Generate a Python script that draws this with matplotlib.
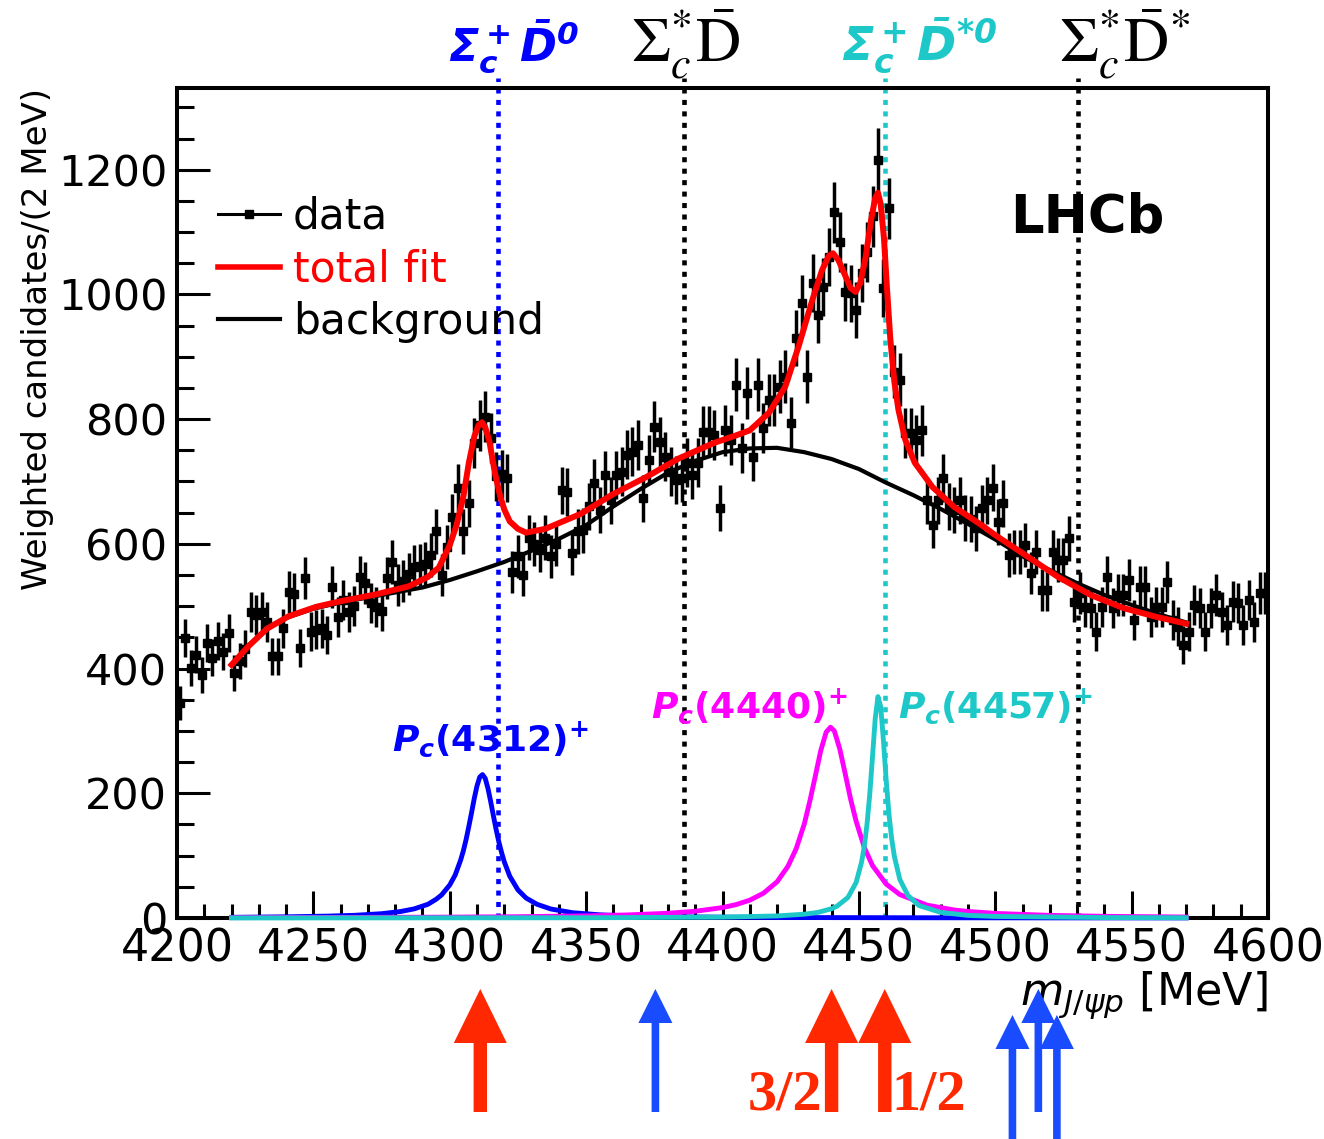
import numpy as np
import matplotlib
matplotlib.use('Agg')
import matplotlib.pyplot as plt
from matplotlib.lines import Line2D
from matplotlib.patches import FancyArrow
import matplotlib.transforms as mtransforms

plt.rcParams['font.family'] = ['DejaVu Sans']
plt.rcParams['mathtext.rm'] = 'DejaVu Sans:italic:bold'
plt.rcParams['mathtext.it'] = 'DejaVu Sans:italic:bold'
plt.rcParams['mathtext.bf'] = 'DejaVu Sans:bold'
plt.rcParams['mathtext.sf'] = 'DejaVu Sans:bold'

# ---------------- data ----------------
mass_lo, bin_width = 4200, 2
counts = [
    345, 449, 401, 422, 390, 441, 417, 444, 427, 457,
    393, 412, 432, 490, 486, 490, 475, 420, 420, 465,
    523, 520, 433, 545, 459, 462, 465, 454, 531, 483,
    510, 490, 500, 547, 537, 505, 499, 492, 545, 571,
    534, 540, 552, 563, 565, 568, 582, 620, 550, 595,
    643, 690, 620, 665, 762, 790, 804, 770, 708, 712,
    705, 555, 580, 550, 610, 600, 590, 610, 580, 600,
    686, 683, 585, 620, 622, 660, 697, 654, 711, 670,
    711, 716, 743, 748, 759, 673, 735, 788, 764, 740,
    716, 703, 705, 730, 711, 730, 780, 780, 775, 657,
    782, 767, 855, 754, 842, 740, 855, 786, 831, 831,
    852, 868, 794, 930, 986, 868, 1018, 967, 1012, 1060,
    1132, 1084, 1004, 1002, 975, 1034, 1068, 1125, 1216, 1010,
    1138, 876, 863, 778, 778, 767, 782, 670, 630, 670,
    705, 660, 654, 670, 641, 640, 625, 657, 670, 690,
    635, 665, 582, 587, 587, 598, 553, 587, 526, 526,
    587, 574, 574, 609, 507, 521, 499, 497, 459, 499,
    547, 497, 518, 518, 542, 478, 531, 531, 483, 499,
    499, 539, 478, 467, 438, 459, 502, 497, 459, 497,
    518, 491, 470, 507, 505, 470, 510, 475, 521, 521,
]
err_scale = 1.45  # weighted-candidate uncertainty relative to sqrt(N)

fit_m = [4220, 4226, 4233, 4241, 4251, 4260, 4273, 4285, 4292, 4296, 4300,
         4302.5, 4305, 4307, 4309, 4310.5, 4311.8, 4313, 4314.5, 4316.5,
         4318.5, 4320, 4322, 4325, 4328, 4335, 4348, 4360, 4372, 4384, 4397,
         4405, 4410, 4417, 4423, 4428, 4433, 4436.5, 4439, 4440.5, 4442.5,
         4445, 4447, 4448.8, 4450.5, 4452.5, 4454.5, 4456, 4457, 4458,
         4459.2, 4460.3, 4461.5, 4463, 4464.5, 4467, 4470.5, 4477, 4485,
         4495, 4500, 4510, 4523, 4535, 4547, 4559, 4570]
fit_v = [406, 435, 464, 484, 499, 508, 519, 532, 547, 562, 598,
         630, 676, 730, 772, 790, 795, 787, 765, 715,
         676, 655, 636, 624, 618, 624, 648, 680, 707, 737, 762,
         774, 782, 810, 852, 918, 992, 1039, 1062, 1066, 1055,
         1030, 1010, 1004, 1018, 1060, 1120, 1155, 1163, 1145,
         1090, 1010, 930, 860, 815, 767, 730, 691, 659,
         630, 614, 585, 547, 518, 497, 483, 472]

bkg_m = [4220, 4225, 4230, 4235, 4240, 4250, 4260, 4270, 4280, 4290, 4300,
         4310, 4320, 4330, 4340, 4350, 4360, 4370, 4380, 4390, 4400, 4410,
         4420, 4430, 4440, 4450, 4460, 4470, 4480, 4490, 4500, 4510, 4520,
         4530, 4540, 4550, 4560, 4570]
bkg_v = [406, 432, 452, 469, 481, 496, 506, 514, 522, 530, 542,
         556, 571, 589, 608, 630, 660, 688, 714, 733, 747, 753,
         754, 747, 736, 720, 698, 678, 656, 632, 607, 580, 558,
         537, 518, 502, 487, 474]

pc4312_m = [4220, 4240, 4255, 4265, 4275, 4282, 4287, 4292, 4295, 4297, 4300,
            4302, 4304, 4305, 4306, 4307, 4308, 4309, 4310, 4311, 4312, 4313,
            4314, 4315, 4316, 4317, 4318, 4319, 4320, 4322, 4325, 4328, 4332,
            4337, 4345, 4355, 4370, 4390, 4420, 4470, 4520, 4570]
pc4312_v = [1.1, 1.9, 3.0, 4.3, 6.9, 10.4, 14.7, 22, 30, 37, 53,
            69, 93, 108, 126, 147, 169, 192, 212, 226, 230, 224,
            208, 187, 164, 142, 122, 105, 90, 67, 45, 32, 22,
            14.5, 8.5, 5.1, 2.8, 1.6, 0.8, 0.4, 0.2, 0.15]

pc4440_m = [4220, 4250, 4300, 4325, 4350, 4365, 4380, 4390, 4400, 4405, 4410,
            4415, 4420, 4424, 4427, 4430, 4432, 4434, 4436, 4438, 4439.6,
            4441, 4443, 4445, 4447, 4449, 4452, 4455, 4460, 4465, 4475,
            4485, 4490, 4500, 4520, 4540, 4570]
pc4440_v = [0.6, 0.8, 1.4, 2.1, 3.4, 4.9, 7.6, 10.8, 16.7, 21.5, 28.6,
            39.7, 58, 83, 111, 151, 187, 227, 268, 298, 306,
            300, 271, 231, 190, 155, 113, 84, 54.5, 37.6, 20.6,
            12.8, 10.5, 7.4, 4.2, 2.7, 1.6]

pc4457_m = [4220, 4350, 4400, 4420, 4430, 4435, 4440, 4442, 4446, 4449, 4451,
            4452, 4453, 4454, 4455, 4456, 4457, 4458, 4459, 4460, 4461, 4462,
            4463, 4465, 4468, 4472, 4480, 4490, 4500, 4540, 4570]
pc4457_v = [0.1, 0.4, 1.4, 3.3, 6.1, 9, 14.9, 19, 33, 57, 90,
            115, 151, 199, 259, 320, 355, 339, 285, 222, 168, 128,
            99, 62, 36, 20, 9, 4.2, 2.5, 0.7, 0.4]

thresholds = [4317.7, 4386.0, 4459.6, 4530.5]
threshold_labels = [r'$\Sigma_c^+\bar{D}^0$', r'$\Sigma_c^{*}\bar{\mathrm{D}}$',
                    r'$\Sigma_c^+\bar{D}^{*0}$', r'$\Sigma_c^{*}\bar{\mathrm{D}}^{*}$']
threshold_colors = ['#0000FF', '#000000', '#1EC8C8', '#000000']
threshold_label_x = [4323.5, 4386.6, 4472.0, 4547.6]
threshold_label_size = [32, 45, 34, 45]

pc_labels = [r'$P_c\mathbf{(4312)}^{\mathbf{+}}$', r'$P_c\mathbf{(4440)}^{\mathbf{+}}$',
             r'$P_c\mathbf{(4457)}^{\mathbf{+}}$']
pc_label_x = [4315, 4410, 4500]
pc_label_y = [268, 321, 321]

pred_red = [4311.2, 4440.0, 4459.5]
pred_blue = [4375.4, 4506.3, 4515.8, 4522.6]
pred_blue_low = [False, True, False, True]

# ---------------- figure ----------------
W, H = 1324, 1139
fig = plt.figure(figsize=(W / 100, H / 100), dpi=100)
ax = fig.add_axes([177 / W, 1 - 918 / H, 1091 / W, 830 / H])
ax.set_xlim(4200, 4600)
ax.set_ylim(0, 1331)

C_RED, C_BLUE, C_MAG, C_CYAN = '#FF0000', '#0000FF', '#FF00FF', '#1EC8C8'

# threshold dotted lines
for xt, col in zip(thresholds, threshold_colors):
    ax.axvline(xt, ymin=0, ymax=1.012, color=col, lw=3.3,
               linestyle=(0, (1.1, 1.4)), dash_capstyle='butt', clip_on=False, zorder=1)

centers = mass_lo + bin_width * (np.arange(len(counts)) + 0.5)
cnt = np.array(counts, dtype=float)
ax.errorbar(centers, cnt, yerr=err_scale * np.sqrt(cnt), fmt='s', color='k',
            ms=5.8, elinewidth=2.5, capsize=0, zorder=3)

for m_, v_, c_ in [(pc4312_m, pc4312_v, C_BLUE), (pc4440_m, pc4440_v, C_MAG),
                   (pc4457_m, pc4457_v, C_CYAN)]:
    ax.plot(m_, v_, color=c_, lw=3.5, zorder=4, clip_on=False, solid_joinstyle='round')
ax.plot(bkg_m, bkg_v, color='k', lw=3.0, zorder=4)
ax.plot(fit_m, fit_v, color=C_RED, lw=4.3, zorder=5, solid_joinstyle='round')

# axes styling
for s in ax.spines.values():
    s.set_linewidth(2.9)
ax.set_xticks(np.arange(4200, 4601, 50))
ax.set_xticks(np.arange(4200, 4601, 10), minor=True)
ax.set_yticks(np.arange(0, 1201, 200))
ax.set_yticks(np.arange(0, 1301, 50), minor=True)
ax.tick_params(axis='both', which='both', direction='in', top=False, right=False, width=2.2)
ax.tick_params(axis='x', which='major', length=19.5, pad=7, labelsize=32)
ax.tick_params(axis='x', which='minor', length=10)
ax.tick_params(axis='y', which='major', length=24, pad=7, labelsize=31)
ax.tick_params(axis='y', which='minor', length=12)

ax.text(-0.128, 1.0, 'Weighted candidates/(2 MeV)', transform=ax.transAxes,
        rotation=90, ha='center', va='top', fontsize=24.5)
ax.text(1.0, -0.062, r'$m_{J/\psi p}$ [MeV]', transform=ax.transAxes,
        ha='right', va='top', fontsize=32, math_fontfamily='dejavusans')

# legend
handles = [Line2D([], [], color='k', marker='s', ms=6, lw=2.2),
           Line2D([], [], color=C_RED, lw=4.0),
           Line2D([], [], color='k', lw=3.0)]
ax.legend(handles, ['data', 'total fit', 'background'], loc='upper left',
          bbox_to_anchor=(0.0376, 0.870), frameon=False, fontsize=30.5,
          handlelength=1.47, handletextpad=0.3, labelspacing=0.25,
          borderpad=0, borderaxespad=0, labelcolor='linecolor')

ax.text(4505.4, 1100, 'LHCb', fontsize=38, fontweight='bold', ha='left', va='baseline')

# threshold labels above the frame
for xl, lab, col, fs in zip(threshold_label_x, threshold_labels, threshold_colors,
                            threshold_label_size):
    if col == '#000000':
        ax.text(xl, 1343, lab, color=col, fontsize=fs, ha='center', va='bottom',
                math_fontfamily='stix', clip_on=False)
    else:
        ax.text(xl, 1352, lab, color=col, fontsize=fs, ha='center', va='bottom',
                math_fontfamily='custom', clip_on=False)

# Pc labels
for lab, xl, yl, col in zip(pc_labels, pc_label_x, pc_label_y, [C_BLUE, C_MAG, C_CYAN]):
    ax.text(xl, yl, lab, color=col, fontsize=26, ha='center', va='baseline',
            math_fontfamily='custom', zorder=6)

# predicted-state arrows below the axis
trans = mtransforms.blended_transform_factory(ax.transData, fig.transFigure)
C_ARR_RED, C_ARR_BLUE = '#FF2800', '#1A4CFF'
px = 1.0 / 2.7275  # MeV per pixel
tip_hi, tail_hi = 1 - 989 / H, 1 - 1112 / H
tip_lo, tail_lo = 1 - 1015 / H, 0.0
for m in pred_red:
    fig.patches.append(FancyArrow(m, tail_hi, 0, tip_hi - tail_hi, width=13.4 * px,
                                  head_width=53 * px, head_length=54 / H,
                                  length_includes_head=True, color=C_ARR_RED,
                                  transform=trans, lw=0))
for m, low in zip(pred_blue, pred_blue_low):
    tip, tail = (tip_lo, tail_lo) if low else (tip_hi, tail_hi)
    fig.patches.append(FancyArrow(m, tail, 0, tip - tail, width=7.6 * px,
                                  head_width=34 * px, head_length=34 / H,
                                  length_includes_head=True, color=C_ARR_BLUE,
                                  transform=trans, lw=0))

fig.text(4436.6, 1 - 1110 / H, '3/2', transform=trans, color=C_ARR_RED, fontsize=42,
         fontweight='bold', family='Liberation Serif', ha='right', va='baseline')
fig.text(4461.8, 1 - 1110 / H, '1/2', transform=trans, color=C_ARR_RED, fontsize=42,
         fontweight='bold', family='Liberation Serif', ha='left', va='baseline')

fig.savefig('out.png', dpi=100)
